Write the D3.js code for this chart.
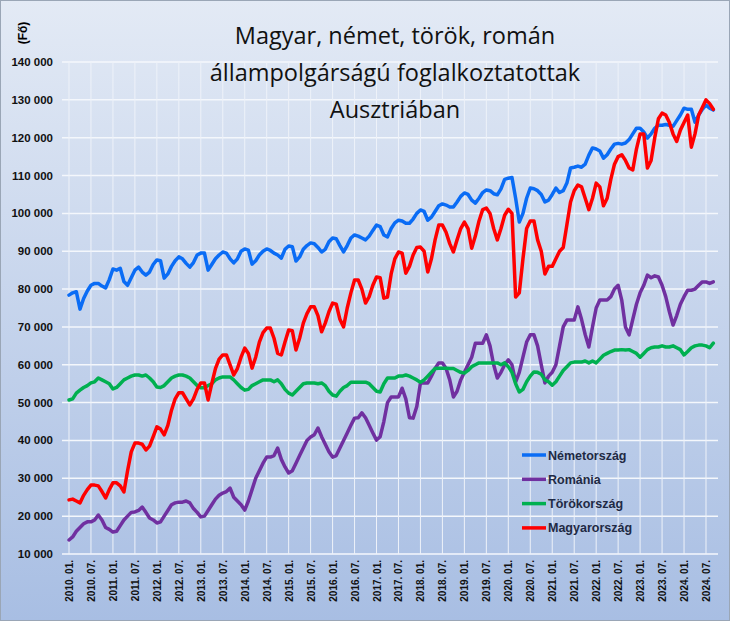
<!DOCTYPE html>
<html><head><meta charset="utf-8">
<script src="https://cdn.jsdelivr.net/npm/d3@7"></script>
<style>body{margin:0;background:#fff}svg{display:block}</style>
</head><body>
<svg id="c" width="730" height="621"></svg>
<script>
const titleLines = ["Magyar, német, török, román", "állampolgárságú foglalkoztatottak", "Ausztriában"];
const yTicks = [10000,20000,30000,40000,50000,60000,70000,80000,90000,100000,110000,120000,130000,140000];
const startYear = 2010;
const seriesNames = ["Németország","Románia","Törökország","Magyarország"];
const seriesColors = ["#0a6cf5","#7030a0","#00b050","#ff0000"];
const germany = [
78.4,79,79.3,74.7,77.5,79.5,81,81.5,81.5,80.8,80.3,82.5,
85.3,85,85.5,82,81,83,85,85.8,84.5,83.7,84.5,86.5,
87.7,87.5,82.9,84,86,87.5,88.5,88,86.8,85.8,87,89,
89.5,89.5,85,86.5,88,89,89.8,89.5,88,86.9,88,90,
90.6,90.3,86.6,87.5,89,90,90.6,90.2,89.5,89,88.2,90.5,
91.4,91.2,87.4,88.5,90.5,91.5,92.2,92,91,89.8,90.5,92.5,
93.5,93.3,91.5,89.8,91.5,93.5,94.3,94,93.5,93,94,95.5,
96.9,96.5,94.3,93.8,96,97.5,98.2,98,97.4,97.4,98.5,100,
100.9,100.5,98.2,99,100.5,102,102.5,102.2,101.7,101.7,103,104.5,
105.4,105,103.5,102.7,104,105.5,106.2,106,105.2,104.9,106.5,109,
109.3,109.5,104,97.7,100,104,106.7,106.5,106,105,103,103.5,
105,106.7,105.5,106,108,112,112.2,112.5,112.2,113,115.4,117.3,
117,116.5,114.6,115.5,117,118.3,118.5,118.3,118.6,119.5,121,122.5,
122.5,121.5,119.9,121,122.5,123.3,123.3,123.5,123.3,123,124.5,126,
127.8,127.5,127.5,124.1,126,127.5,128.6,127.8,127.3];
const romania = [
13.7,14.5,16,17,18,18.5,18.5,19,20.3,19,17,16.5,
15.8,16,17.5,19,20,21,21.1,21.5,22.4,21,19.5,19,
18.2,18.5,20,21.5,23,23.5,23.7,23.7,24,23.5,22,21,
19.8,20,21.5,23,24.5,25.5,26.1,26.5,27.4,25,24,23,
21.6,24,27,30,32,34,35.6,35.6,36,38,35,33,
31.4,32,34,36,38,40,40.9,41.5,43.3,41,39,37,
35.6,36,38,40,42,44,45.9,46,47.3,46,44,42,
40.1,41,45,50,51.5,51.5,51.5,53.8,51,46,45.9,49,
55.2,55.2,55.2,57,59,60.5,60.5,59,56,51.5,53,56,
58,60,62,65.7,65.7,65.7,67.9,65,60,56.5,58,60,
61.3,60,55.4,58,62,66,67.9,67.9,65,60,55.2,57,
58,60,65,70,71.8,71.8,71.8,75.3,72,68,64.7,70,
75,77.1,77.1,77.1,78,80,81,77,70,67.9,72,76,
79,81,83.7,83,83.5,83.2,81,78,74,70.5,73,76,
78,79.7,79.7,80,81,81.9,81.9,81.5,81.9];
const turkey = [
50.7,51,52.5,53.3,54,54.5,55.2,55.5,56.5,56,55.5,55,
53.6,54,55,56,56.5,57,57.3,57.3,57,57.3,56.5,55.5,
54.1,54,54.5,55.5,56.5,57,57.3,57.3,57,56.5,55.5,54.5,
53.9,53.9,54.5,55,56,56.5,56.8,56.8,56.8,56,55,54,
53.3,53.5,54.5,55,55.5,56,56,56,55.5,56,55,53.5,
52.5,52,53,54,55,55.2,55.2,55.2,55,55.2,54.5,53,
52,51.7,53,54,54.5,55.4,55.4,55.4,55.4,55.4,55,54,
53,52.8,55,56.5,56.5,56.5,57,57,57.3,57,56.5,56,
55.4,56,57,58,59,59.1,59.1,59.1,59,59,58.5,58,
57.8,58.5,59.5,60,60.5,60.5,60.5,60.5,60.5,60.5,60,60.5,
59.5,58,55,52.8,53.5,55.5,57,58.1,58,57.5,56,55.5,
54.6,55.5,57,58.5,59.5,60.5,60.7,60.7,60.7,61,60.5,61,
60.5,61.5,62.5,63,63.5,63.9,63.9,64,63.9,64,63.5,63,
62,63,64,64.5,64.7,64.7,65,64.7,64.7,65,64.5,64,
62.6,63.5,64.5,65,65.2,65.2,65,64.5,65.7];
const hungary = [
24.3,24.5,24,23.5,25.5,27,28.2,28.2,28,26.5,24.8,27,
28.8,28.8,28,26.4,32,37,39.3,39.3,39,37.5,38.5,41,
43.6,43,41.5,44,48,51,52.6,52.6,51,49.4,51,53.5,
55.2,55.2,50.7,55,59,61.5,62.6,62.6,60,57.3,59,62,
64.4,63,59.1,62,66,68.5,69.7,69.7,67,63,62.6,66,
69.2,69,63.9,67,71,73.5,75.3,75.3,73,68.7,71,74,
76.3,76,72,70,75,79,82.4,82.4,80,76.3,78,81,
83.2,83,77.6,77.9,84,88,89.8,89.5,84.2,86,89,91,
91.1,90,84.5,88,93,96.9,96.9,95,92,89.8,93,96,
97.7,96,90.8,94,98,101,101.4,100,96,93,96,99.5,
101.1,100,77.9,79,88,96,98,98,93,90,84,86,
86,88,90,91,97,103,106,107.5,107,104,101,104,
108,107,102,104,109,113,115,115.5,114,112,111.5,117,
121,121,112,114,120,125,126.5,126,124,121,119,122,
124,126,117.5,121,126,128,130,129,127.5];
const seriesData = [germany, romania, turkey, hungary];

const svg = d3.select("#c");
const defs = svg.append("defs");
const g = defs.append("linearGradient").attr("id","bg").attr("x1",0).attr("y1",0).attr("x2",0).attr("y2",1);
g.append("stop").attr("offset","0%").attr("stop-color","#e3eaf5");
g.append("stop").attr("offset","100%").attr("stop-color","#a8bee3");
svg.append("rect").attr("x",0.5).attr("y",0.5).attr("width",729).attr("height",620).attr("fill","url(#bg)").attr("stroke","#9aa6b6");

const L=62,R=718,T=62,B=554;
const x = d3.scaleLinear().domain([0,174]).range([69,706]);
const y = d3.scaleLinear().domain([10000,140000]).range([B,T]);

svg.append("g").selectAll("line").data(yTicks).join("line")
 .attr("x1",L).attr("x2",R).attr("y1",d=>y(d)).attr("y2",d=>y(d)).attr("stroke","#f4f7fc").attr("stroke-width",1.5);
const xTickIdx = d3.range(0,175,6);
svg.append("g").selectAll("line").data(d3.range(0,178,6)).join("line")
 .attr("x1",d=>x(d)).attr("x2",d=>x(d)).attr("y1",T).attr("y2",B).attr("stroke","#eef2f9").attr("stroke-width",1);

svg.append("g").selectAll("text").data(yTicks).join("text")
 .attr("x",53).attr("y",d=>y(d)+4).attr("text-anchor","end")
 .attr("font-family","Liberation Sans, Arial").attr("font-weight","bold").attr("font-size",11.5).attr("fill","#111")
 .text(d=>d3.format(",")(d).replace(/,/g," "));
svg.append("g").selectAll("text").data(xTickIdx).join("text")
 .attr("transform",d=>`translate(${x(d)+4},560) rotate(-90)`).attr("text-anchor","end")
 .attr("font-family","Liberation Sans, Arial").attr("font-weight","bold").attr("font-size",10).attr("fill","#111")
 .text(d=>{const yr=startYear+Math.floor(d/12), m=d%12+1; return `${yr}. ${String(m).padStart(2,"0")}.`;});

svg.append("text").attr("transform","translate(27,33) rotate(-90)").attr("text-anchor","middle")
 .attr("font-family","Liberation Sans, Arial").attr("font-weight","bold").attr("font-size",12).text("(Fő)");

const line = d3.line().x((d,i)=>x(i)).y(d=>y(d*1000));
seriesData.forEach((s,k)=>{
 svg.append("path").attr("d",line(s)).attr("fill","none").attr("stroke",seriesColors[k])
  .attr("stroke-width",3.5).attr("stroke-linejoin","round").attr("stroke-linecap","round");
});

svg.append("g").selectAll("text").data(titleLines).join("text")
 .attr("x",395).attr("y",(d,i)=>44+i*37).attr("text-anchor","middle")
 .attr("font-family","Open Sans, Liberation Sans, Arial").attr("font-size",23.5).attr("fill","#111").text(d=>d);

const lg = svg.append("g").selectAll("g").data(seriesNames).join("g")
 .attr("transform",(d,i)=>`translate(522,${455+i*24.3})`);
lg.append("line").attr("x1",0).attr("x2",24).attr("stroke",(d,i)=>seriesColors[i]).attr("stroke-width",3.5);
lg.append("text").attr("x",26).attr("y",4.5).attr("font-family","Liberation Sans, Arial").attr("font-weight","bold")
 .attr("font-size",12.5).attr("fill","#1f2a44").text(d=>d);
</script>
</body></html>
